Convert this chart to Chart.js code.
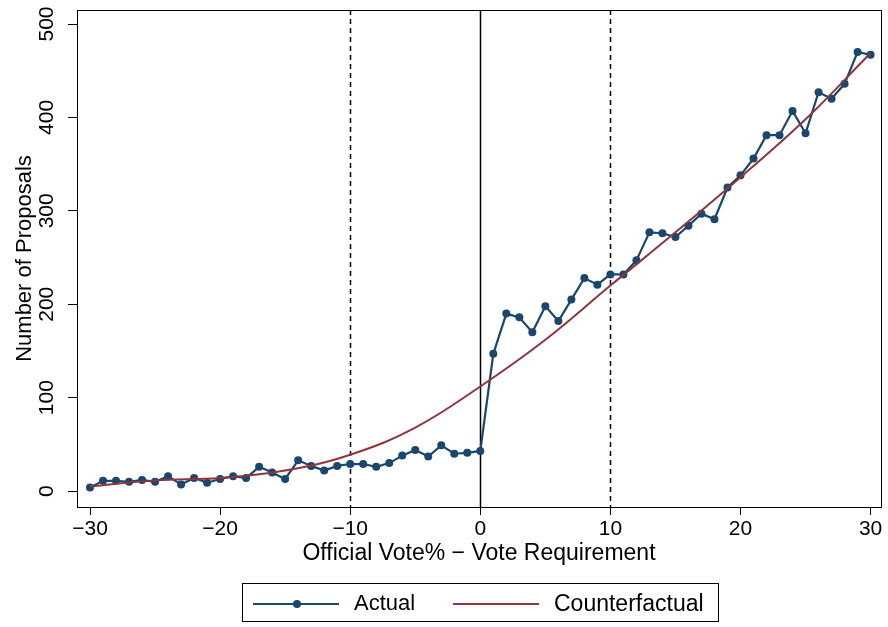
<!DOCTYPE html>
<html lang="en">
<head>
  <meta charset="UTF-8">
  <title>Number of Proposals by Vote Margin</title>
  <style>
    body {
      margin: 0;
      padding: 0;
      background-color: #fff;
      font-family: 'Liberation Sans', Arial, sans-serif;
    }

    .wrap {
      position: relative;
      width: 888px;
      height: 627px;
    }

    .legend {
      position: absolute;
      left: 242px;
      top: 583px;
      width: 477px;
      height: 39px;
      box-sizing: border-box;
      border: 1px solid #000;
      font-size: 22px;
      color: #000;
    }

    .legend .sample {
      position: absolute;
      top: 19px;
      height: 2px;
    }

    .legend .dot {
      position: absolute;
      width: 8px;
      height: 8px;
      border-radius: 50%;
      background: #1a476f;
      top: -3px;
      left: 40px;
    }

    .legend .label {
      position: absolute;
      top: 6px;
      line-height: 26px;
    }
  </style>
  <script src="https://cdn.jsdelivr.net/npm/chart.js"></script>
</head>
<body>

  <div class="wrap">
    <canvas id="chart" width="888" height="627"></canvas>

    <!-- Legend under the plot -->
    <div class="legend">
      <div class="sample" style="left: 10px; width: 86px; background: #1a476f;"><div class="dot"></div></div>
      <div class="label" style="left: 111px;">Actual</div>
      <div class="sample" style="left: 210px; width: 86px; background: #90353b;"></div>
      <div class="label" style="left: 311px; font-size: 23px;">Counterfactual</div>
    </div>
  </div>

  <script>
    // vote margin bins (official vote% minus requirement)
    const margins = [-30, -29, -28, -27, -26, -25, -24, -23, -22, -21, -20, -19, -18, -17, -16, -15,
      -14, -13, -12, -11, -10, -9, -8, -7, -6, -5, -4, -3, -2, -1, 0,
      1, 2, 3, 4, 5, 6, 7, 8, 9, 10, 11, 12, 13, 14, 15, 16, 17, 18, 19, 20,
      21, 22, 23, 24, 25, 26, 27, 28, 29, 30];

    // actual number of proposals in each bin
    const actual = [4, 11, 11, 10, 12, 10, 16, 7, 14, 9, 13, 16, 14, 26, 20, 13,
      33, 27, 22, 27, 29, 29, 26, 30, 38, 44, 37, 49, 40, 41, 43,
      147, 190, 186, 170, 198, 182, 205, 228, 221, 232, 232, 247, 277, 276, 272, 284, 297, 291, 325, 338,
      356, 381, 381, 407, 383, 427, 420, 436, 470, 467];

    // counterfactual fit, every 5 points
    const cfMargins = [-30, -25, -20, -15, -10, -5, 0, 5, 10, 15, 20, 25, 30];
    const counterfactual = [5, 11.5, 14, 22, 39, 68, 112, 162, 220, 277, 336, 398, 469];

    const xTicks = [-30, -20, -10, 0, 10, 20, 30];
    const yTicks = [0, 100, 200, 300, 400, 500];
    const dashedLines = [-10, 10];
    const solidLines = [0];

    const blue = '#1a476f';
    const red = '#90353b';
    const font = "'Liberation Sans', Arial, sans-serif";

    function minus(v) {
      return v < 0 ? '\u2212' + Math.abs(v) : String(v);
    }

    // vertical reference lines, frame and rotated y tick labels
    const extras = {
      id: 'extras',
      beforeDatasetsDraw(chart) {
        const ctx = chart.ctx;
        const x = chart.scales.x;
        const area = chart.chartArea;
        ctx.save();
        ctx.strokeStyle = '#000';
        ctx.lineWidth = 1.5;
        dashedLines.forEach(v => {
          const px = Math.round(x.getPixelForValue(v)) + 0.5;
          ctx.setLineDash([5, 4]);
          ctx.beginPath();
          ctx.moveTo(px, area.top);
          ctx.lineTo(px, area.bottom);
          ctx.stroke();
        });
        ctx.setLineDash([]);
        solidLines.forEach(v => {
          const px = Math.round(x.getPixelForValue(v)) + 0.5;
          ctx.beginPath();
          ctx.moveTo(px, area.top);
          ctx.lineTo(px, area.bottom);
          ctx.stroke();
        });
        ctx.restore();
      },
      afterDraw(chart) {
        const ctx = chart.ctx;
        const area = chart.chartArea;
        const y = chart.scales.y;
        ctx.save();
        ctx.strokeStyle = '#000';
        ctx.lineWidth = 1;
        ctx.strokeRect(area.left + 0.5, area.top + 0.5, area.right - area.left, area.bottom - area.top);

        ctx.fillStyle = '#000';
        ctx.font = '21px ' + font;
        ctx.textAlign = 'center';
        ctx.textBaseline = 'middle';
        yTicks.forEach(v => {
          ctx.save();
          ctx.translate(47, y.getPixelForValue(v));
          ctx.rotate(-Math.PI / 2);
          ctx.fillText(String(v), 0, 0);
          ctx.restore();
        });
        ctx.restore();
      }
    };

    new Chart(document.getElementById('chart'), {
      type: 'line',
      data: {
        datasets: [
          {
            label: 'Counterfactual',
            data: cfMargins.map((m, i) => ({ x: m, y: counterfactual[i] })),
            borderColor: red,
            borderWidth: 2,
            pointRadius: 0,
            tension: 0.4,
            fill: false
          },
          {
            label: 'Actual',
            data: margins.map((m, i) => ({ x: m, y: actual[i] })),
            borderColor: blue,
            backgroundColor: blue,
            borderWidth: 2.2,
            pointRadius: 4,
            pointBackgroundColor: blue,
            pointBorderWidth: 0,
            tension: 0,
            fill: false
          }
        ]
      },
      options: {
        responsive: false,
        animation: false,
        layout: {
          padding: { left: 0, top: 10, right: 7, bottom: 55 }
        },
        plugins: {
          legend: { display: false },
          tooltip: { enabled: false }
        },
        scales: {
          x: {
            type: 'linear',
            min: -31,
            max: 30.8,
            afterBuildTicks: s => { s.ticks = xTicks.map(v => ({ value: v })); },
            afterFit: s => { s.height = 65; },
            grid: { drawOnChartArea: false, tickLength: 8, color: '#000' },
            border: { color: '#000', width: 1 },
            ticks: {
              color: '#000',
              padding: 2,
              maxRotation: 0,
              font: { size: 21, family: font },
              callback: v => minus(v)
            },
            title: {
              display: true,
              text: 'Official Vote% \u2212 Vote Requirement',
              color: '#000',
              font: { size: 23, family: font },
              padding: { top: 0, bottom: 5 }
            }
          },
          y: {
            min: -17,
            max: 515,
            afterBuildTicks: s => { s.ticks = yTicks.map(v => ({ value: v })); },
            afterFit: s => { s.width = 77; },
            grid: { drawOnChartArea: false, tickLength: 9, color: '#000' },
            border: { color: '#000', width: 1 },
            ticks: { display: false },
            title: {
              display: true,
              text: 'Number of Proposals',
              color: '#000',
              font: { size: 22, family: font },
              padding: { top: 12, bottom: 0 }
            }
          }
        }
      },
      plugins: [extras]
    });
  </script>
</body>
</html>
